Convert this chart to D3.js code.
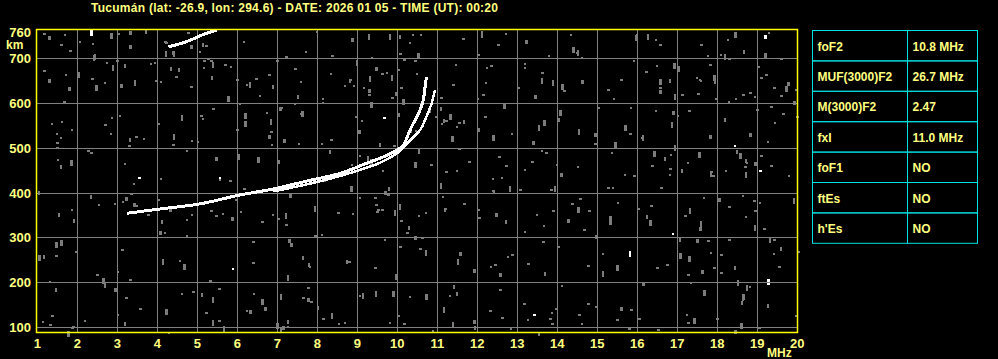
<!DOCTYPE html>
<html>
<head>
<meta charset="utf-8">
<script src="https://cdn.jsdelivr.net/npm/d3@7"></script>
<style>
  html, body { margin: 0; padding: 0; background: #000; }
  svg { display: block; }
  text { font-family: "Liberation Sans", Arial, sans-serif; font-weight: 700; fill: #ffff80; }
</style>
</head>
<body>
<svg id="ionogram" width="998" height="359"></svg>
<script>
// 資料
var title = "Tucumán (lat: -26.9, lon: 294.6) - DATE: 2026 01 05 - TIME (UT): 00:20";
var freqTicks = [1, 2, 3, 4, 5, 6, 7, 8, 9, 10, 11, 12, 13, 14, 15, 16, 17, 18, 19, 20];
var heightTicks = [100, 200, 300, 400, 500, 600, 700, 760];

// O 軌跡 (MHz, km)
var oFreq   = [3.24, 4.1, 5.07, 6.07, 6.89, 7.74, 8.57, 9.24, 9.65, 9.99, 10.15, 10.32, 10.57, 10.65, 10.69, 10.73];
var oHeight = [354, 364, 375, 395, 408, 426, 443, 466, 480, 495, 506, 540, 585, 607, 633, 659];
// X 軌跡
var xFreq   = [6.9, 7.9, 8.9, 9.6, 9.99, 10.15, 10.32, 10.57, 10.73, 10.86, 10.94];
var xHeight = [403, 422, 446, 468, 488, 500, 517, 540, 570, 600, 629];
// 二次反射
var o2Freq   = [4.28, 4.69, 5.23, 5.49];
var o2Height = [726, 736, 756, 763];

// 參數表
var paramNames  = ["foF2", "MUF(3000)F2", "M(3000)F2", "fxI", "foF1", "ftEs", "h'Es"];
var paramValues = ["10.8 MHz", "26.7 MHz", "2.47", "11.0 MHz", "NO", "NO", "NO"];

// 定義圖表
var svg = d3.select("#ionogram");
var x = d3.scaleLinear().domain([1, 20]).range([37.3, 797.3]);
var y = d3.scaleLinear().domain([100, 760]).range([327, 31.5]);

// 標題
svg.append("text")
  .attr("x", 91).attr("y", 12)
  .attr("textLength", 407)
  .style("font-size", "12px")
  .text(title);

var plot = svg.append("g");

// 背景雜訊 (固定種子, 只是紋理)
var rnd = d3.randomLcg(0.4217);
var noise = [];
for (var i = 0; i < 650; i++) {
  noise.push({
    f: 1 + rnd() * 19,
    h: 88 + rnd() * 676,
    w: rnd() < 0.5 ? 2 : 3,
    t: rnd() < 0.6 ? 2 : (rnd() < 0.5 ? 4 : 6),
    c: rnd() < 0.02 ? "#ffffff" : "#7c7c7c"
  });
}
plot.selectAll("rect.noise").data(noise).enter().append("rect")
  .attr("class", "noise")
  .attr("x", function (d) { return Math.round(x(d.f)); })
  .attr("y", function (d) { return Math.round(y(d.h)); })
  .attr("width", function (d) { return d.w; })
  .attr("height", function (d) { return d.t; })
  .attr("fill", function (d) { return d.c; });

// 格線
plot.selectAll("line.vg").data(freqTicks.slice(1, -1)).enter().append("line")
  .attr("x1", function (d) { return Math.round(x(d)) + 0.5; })
  .attr("x2", function (d) { return Math.round(x(d)) + 0.5; })
  .attr("y1", 30).attr("y2", 333)
  .attr("stroke", "#808080").attr("stroke-width", 1);
plot.selectAll("line.hg").data(heightTicks.slice(0, -1)).enter().append("line")
  .attr("y1", function (d) { return Math.round(y(d)) + 0.5; })
  .attr("y2", function (d) { return Math.round(y(d)) + 0.5; })
  .attr("x1", 36).attr("x2", 798)
  .attr("stroke", "#808080").attr("stroke-width", 1);

// 軌跡
var line = d3.line()
  .x(function (d) { return x(d[0]); })
  .y(function (d) { return y(d[1]); })
  .curve(d3.curveCatmullRom);

function trace(fs, hs, width) {
  var pts = d3.zip(fs, hs);
  plot.append("path")
    .attr("d", line(pts))
    .attr("fill", "none")
    .attr("stroke", "#ffffff")
    .attr("stroke-width", width)
    .attr("shape-rendering", "crispEdges");
}
trace(oFreq, oHeight, 3);
trace(xFreq, xHeight, 2.5);
trace(o2Freq, o2Height, 3);

// 外框
svg.append("rect")
  .attr("x", 36.5).attr("y", 29.5)
  .attr("width", 761).attr("height", 303)
  .attr("fill", "none")
  .attr("stroke", "#ffff00").attr("stroke-width", 1.5);

// X 軸標籤
svg.selectAll("text.xt").data(freqTicks).enter().append("text")
  .attr("class", "xt")
  .attr("x", function (d) { return x(d); })
  .attr("y", 348)
  .attr("text-anchor", "middle")
  .style("font-size", "13px")
  .text(function (d) { return d; });
svg.append("text")
  .attr("x", 767).attr("y", 357)
  .style("font-size", "12px")
  .text("MHz");

// Y 軸標籤
svg.selectAll("text.yt").data(heightTicks).enter().append("text")
  .attr("class", "yt")
  .attr("x", 31)
  .attr("y", function (d) { return y(d) + 5; })
  .attr("text-anchor", "end")
  .style("font-size", "13px")
  .text(function (d) { return d; });
svg.append("text")
  .attr("x", 6).attr("y", 49)
  .style("font-size", "12px")
  .text("km");

// 參數表
var rowH = 30.4;
var tbl = svg.append("g").attr("transform", "translate(812.5,30.5)");
var rows = tbl.selectAll("g").data(paramNames).enter().append("g")
  .attr("transform", function (d, i) { return "translate(0," + (i * rowH) + ")"; });
rows.append("rect")
  .attr("width", 165).attr("height", rowH)
  .attr("fill", "none").attr("stroke", "#00e0e0").attr("stroke-width", 1);
rows.append("line")
  .attr("x1", 95).attr("x2", 95).attr("y1", 0).attr("y2", rowH)
  .attr("stroke", "#00e0e0").attr("stroke-width", 1);
rows.append("text")
  .attr("x", 5).attr("y", 20)
  .style("font-size", "12px")
  .text(function (d) { return d; });
rows.append("text")
  .attr("x", 100).attr("y", 20)
  .style("font-size", "12px")
  .text(function (d, i) { return paramValues[i]; });
</script>
</body>
</html>
